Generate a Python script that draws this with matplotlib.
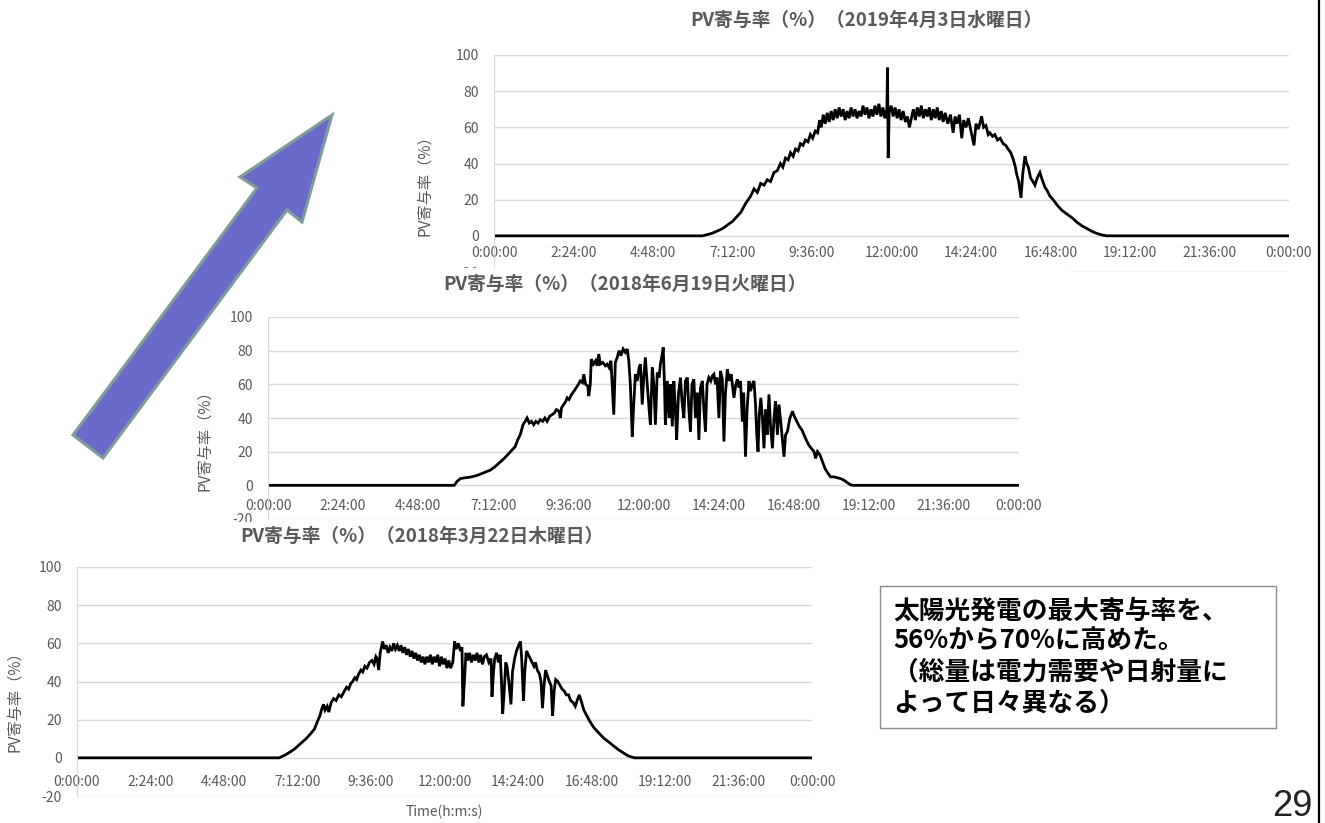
import matplotlib
matplotlib.use("Agg")
import matplotlib.pyplot as plt
from matplotlib.patches import Polygon, Rectangle

plt.rcParams['font.family'] = ['Noto Sans CJK JP', 'DejaVu Sans']
plt.rcParams['axes.unicode_minus'] = False

# time of day in hours, PV contribution rate in %
apr_t = [0.0, 6.3, 6.6, 6.9, 7.2, 7.45, 7.6, 7.75, 7.85, 7.95, 8.05, 8.15, 8.25, 8.35, 8.45,
         8.55, 8.65, 8.72, 8.8, 8.88, 8.95, 9.03, 9.1, 9.18, 9.25, 9.33, 9.4, 9.48, 9.55, 9.62,
         9.7, 9.77, 9.83, 9.88, 9.94, 10.0, 10.06, 10.12, 10.18, 10.24, 10.3, 10.36, 10.42,
         10.48, 10.54, 10.6, 10.66, 10.72, 10.78, 10.84, 10.9, 10.96, 11.02, 11.08, 11.14,
         11.2, 11.26, 11.32, 11.38, 11.44, 11.5, 11.56, 11.62, 11.68, 11.74, 11.8, 11.86,
         11.88, 11.9, 11.93, 11.99, 12.05, 12.11, 12.17, 12.23, 12.29, 12.35, 12.42, 12.48,
         12.54, 12.6, 12.66, 12.72, 12.78, 12.84, 12.9, 12.96, 13.02, 13.08, 13.14, 13.2,
         13.26, 13.32, 13.38, 13.44, 13.5, 13.56, 13.62, 13.7, 13.78, 13.86, 13.92, 13.98,
         14.05, 14.12, 14.18, 14.25, 14.32, 14.4, 14.49, 14.55, 14.62, 14.68, 14.72, 14.78,
         14.85, 14.92, 14.97, 15.05, 15.12, 15.2, 15.28, 15.37, 15.45, 15.52, 15.6, 15.68,
         15.74, 15.78, 15.84, 15.91, 15.96, 16.03, 16.08, 16.13, 16.2, 16.27, 16.33, 16.4,
         16.48, 16.55, 16.63, 16.7, 16.78, 16.88, 17.0, 17.15, 17.3, 17.45, 17.6, 17.75,
         17.9, 18.05, 18.2, 18.35, 18.5, 24.0]
apr_v = [0, 0, 1.5, 4, 8, 13, 18, 22, 26, 24, 29, 28, 31, 30, 35,
         36, 40, 38, 43, 42, 46, 44, 48, 47, 51, 50, 53, 52, 56, 54,
         58, 57, 64, 60, 67, 62, 68, 63, 69, 64, 70, 65, 71,
         66, 70, 64, 69, 65, 71, 66, 70, 65, 69, 66, 72,
         67, 71, 65, 70, 66, 72, 67, 73, 66, 71, 65, 70,
         93, 43, 68, 72, 66, 71, 65, 70, 64, 69, 63, 66,
         60, 65, 70, 64, 71, 66, 72, 65, 70, 66, 71, 64,
         70, 65, 71, 64, 69, 63, 68, 62, 67, 57, 66, 62,
         67, 54, 64, 60, 65, 58, 50, 62, 59, 63, 66, 60,
         61, 56, 57, 55, 56, 53, 54, 51, 50, 48, 46, 42,
         38, 34, 30, 21, 34, 44, 40, 38, 32, 30, 28, 32,
         35, 31, 27, 25, 22, 20, 17, 14, 12, 10, 7.5, 5.5,
         4, 2.5, 1.3, 0.5, 0, 0]

jun_t = [0.0, 5.95, 6.05, 6.15, 6.3, 6.5, 6.7, 6.9, 7.1, 7.25, 7.4, 7.55, 7.7, 7.8, 7.9,
         7.98, 8.06, 8.15, 8.22, 8.28, 8.35, 8.42, 8.49, 8.56, 8.63, 8.7, 8.78, 8.85, 8.92,
         9.0, 9.08, 9.15, 9.22, 9.3, 9.34, 9.38, 9.45, 9.52, 9.56, 9.62, 9.7, 9.78, 9.85,
         9.92, 9.98, 10.05, 10.09, 10.15, 10.22, 10.25, 10.3, 10.33, 10.4, 10.47, 10.52,
         10.57, 10.62, 10.7, 10.78, 10.84, 10.9, 10.96, 11.05, 11.1, 11.16, 11.22, 11.28,
         11.35, 11.42, 11.48, 11.53, 11.58, 11.64, 11.68, 11.74, 11.8, 11.86, 11.9, 11.96,
         12.01, 12.06, 12.12, 12.18, 12.22, 12.28, 12.33, 12.38, 12.44, 12.5, 12.54, 12.6,
         12.63, 12.67, 12.7, 12.76, 12.82, 12.86, 12.92, 12.97, 13.02, 13.06, 13.12, 13.18,
         13.23, 13.29, 13.34, 13.4, 13.45, 13.5, 13.55, 13.61, 13.66, 13.72, 13.77, 13.82,
         13.88, 13.93, 13.98, 14.03, 14.09, 14.15, 14.2, 14.25, 14.3, 14.35, 14.41, 14.46,
         14.52, 14.57, 14.62, 14.68, 14.74, 14.8, 14.85, 14.89, 14.95, 15.0, 15.05, 15.1,
         15.16, 15.2, 15.26, 15.31, 15.37, 15.42, 15.48, 15.53, 15.58, 15.62, 15.66, 15.7,
         15.75, 15.8, 15.85, 15.9, 15.95, 16.01, 16.06, 16.12, 16.17, 16.22, 16.28, 16.33,
         16.4, 16.45, 16.49, 16.54, 16.6, 16.68, 16.76, 16.82, 16.9, 16.98, 17.06, 17.13,
         17.2, 17.28, 17.36, 17.45, 17.5, 17.56, 17.64, 17.72, 17.8, 17.9, 17.98, 18.09,
         18.2, 18.3, 18.41, 18.52, 18.62, 18.7, 24.0]
jun_v = [0, 0, 2.5, 4, 4.5, 5, 6, 7.5, 9, 11, 13.5, 16, 19, 21, 23,
         27, 30, 36, 38, 40, 37, 38, 36, 38, 37, 39, 38, 40, 38,
         41, 42, 43, 45, 44, 40, 46, 48, 50, 52, 51, 54, 56, 58,
         60, 62, 61, 66, 60, 59, 53, 60, 75, 72, 74, 71,
         78, 72, 73, 71, 72, 70, 74, 42, 73, 76, 80, 77,
         81, 79, 81, 74, 60, 29, 45, 66, 62, 70, 72, 48,
         65, 76, 60, 45, 36, 70, 60, 36, 67, 64, 72, 78,
         82, 60, 36, 62, 40, 60, 35, 62, 45, 27, 55, 64,
         50, 40, 62, 64, 45, 32, 60, 63, 40, 55, 27, 58,
         62, 45, 32, 60, 64, 62, 65, 66, 60, 64, 40, 68,
         63, 26, 55, 69, 62, 66, 58, 52, 60, 63, 58, 62,
         38, 55, 17, 45, 62, 56, 60, 62, 48, 30, 20, 42,
         52, 40, 22, 45, 30, 54, 35, 22, 40, 50, 30, 48,
         35, 25, 17, 30, 32, 40, 44, 41, 38, 35, 33, 30,
         27, 24, 22, 20, 16, 20, 18, 14, 10, 7, 5, 5,
         4.5, 4, 3, 1.5, 0.3, 0, 0]

mar_t = [0.0, 6.6, 6.8, 7.0, 7.13, 7.3, 7.48, 7.62, 7.75, 7.85, 7.93, 8.0, 8.05, 8.1, 8.17,
         8.22, 8.3, 8.38, 8.46, 8.55, 8.63, 8.73, 8.8, 8.87, 8.94, 9.0, 9.07, 9.13, 9.2,
         9.27, 9.33, 9.4, 9.47, 9.55, 9.63, 9.7, 9.76, 9.8, 9.85, 9.9, 9.98, 10.04, 10.1,
         10.16, 10.22, 10.28, 10.34, 10.4, 10.46, 10.52, 10.58, 10.64, 10.7, 10.76, 10.82,
         10.88, 10.94, 11.0, 11.06, 11.12, 11.18, 11.24, 11.3, 11.36, 11.42, 11.48, 11.54,
         11.6, 11.66, 11.72, 11.78, 11.84, 11.9, 11.96, 12.02, 12.08, 12.14, 12.2, 12.27,
         12.33, 12.38, 12.45, 12.52, 12.57, 12.6, 12.65, 12.7, 12.76, 12.82, 12.88, 12.94,
         13.0, 13.06, 13.12, 13.18, 13.24, 13.3, 13.37, 13.45, 13.52, 13.55, 13.6, 13.64,
         13.7, 13.76, 13.82, 13.86, 13.9, 13.95, 14.0, 14.04, 14.1, 14.17, 14.22, 14.29,
         14.35, 14.42, 14.48, 14.52, 14.58, 14.62, 14.68, 14.74, 14.8, 14.86, 14.92, 14.97,
         15.03, 15.1, 15.15, 15.2, 15.25, 15.3, 15.36, 15.42, 15.48, 15.53, 15.58, 15.63,
         15.7, 15.77, 15.84, 15.91, 15.98, 16.05, 16.12, 16.2, 16.27, 16.33, 16.4, 16.46,
         16.55, 16.65, 16.75, 16.87, 16.98, 17.1, 17.22, 17.35, 17.5, 17.66, 17.85, 18.0,
         18.2, 24.0]
mar_v = [0, 0, 1.5, 3.5, 5, 7.5, 10, 12.5, 15, 19, 22, 26, 28, 25, 27,
         24, 29, 31, 30, 33, 32, 35, 37, 36, 39, 40, 42, 41, 44,
         46, 45, 48, 47, 50, 51, 49, 53, 52, 46, 55, 61, 57, 59,
         55, 58, 56, 60, 57, 59, 56, 59, 55, 58, 54, 57,
         53, 56, 52, 55, 51, 54, 50, 53, 49, 53, 50, 54,
         49, 53, 50, 54, 48, 53, 49, 52, 47, 51, 47, 50,
         61, 57, 60, 56, 58, 27, 40, 55, 51, 55, 50, 54,
         51, 55, 50, 54, 49, 53, 54, 50, 52, 32, 45, 52,
         55, 50, 54, 40, 23, 35, 50, 48, 40, 28, 45, 52,
         56, 59, 61, 52, 30, 45, 56, 54, 52, 50, 48, 50,
         46, 44, 40, 26, 38, 46, 43, 40, 38, 22, 35, 41,
         40, 38, 36, 35, 33, 33, 30, 29, 27, 30, 33, 30,
         25, 22, 19, 16, 14, 12, 10, 8.5, 6.5, 4.5, 2.5, 1,
         0, 0]

tick_labels = ["0:00:00", "2:24:00", "4:48:00", "7:12:00", "9:36:00", "12:00:00",
               "14:24:00", "16:48:00", "19:12:00", "21:36:00", "0:00:00"]
y_ticks = [-20, 0, 20, 40, 60, 80, 100]
ylabel = "PV寄与率（%）"
titles = ["PV寄与率（%）（2019年4月3日水曜日）",
          "PV寄与率（%）（2018年6月19日火曜日）",
          "PV寄与率（%）（2018年3月22日木曜日）"]
note_lines = ["太陽光発電の最大寄与率を、",
              "56%から70%に高めた。",
              "（総量は電力需要や日射量に",
              "よって日々異なる）"]

W, H = 1325, 823
fig = plt.figure(figsize=(W / 100, H / 100), dpi=100)
GRID = "#D9D9D9"
TXT = "#595959"


def fx(x):
    return x / W


def fy(y):
    return 1 - y / H


def chart(plot, box, z, title, title_xy, ylab_xy, t, v, xpad, xtitle=None):
    x0, y0, x1, y1 = plot
    if box is not None:
        bx0, by0, bx1, by1 = box
        fig.add_artist(Rectangle((fx(bx0), fy(by1)), (bx1 - bx0) / W, (by1 - by0) / H,
                                 transform=fig.transFigure, facecolor="white",
                                 edgecolor="none", zorder=z))
    ax = fig.add_axes([fx(x0), fy(y1), (x1 - x0) / W, (y1 - y0) / H], zorder=z + 0.5)
    ax.set_facecolor("none")
    ax.plot(t, v, color="black", lw=2, solid_joinstyle="miter")
    ax.set_xlim(0, 24)
    ax.set_ylim(-20, 100)
    ax.set_yticks(y_ticks)
    ax.set_xticks([i * 2.4 for i in range(11)])
    ax.set_xticklabels(tick_labels)
    ax.grid(axis="y", color=GRID, lw=1)
    ax.set_axisbelow(True)
    for s in ["top", "right"]:
        ax.spines[s].set_visible(False)
    ax.spines["bottom"].set_position(("data", 0))
    ax.spines["bottom"].set_visible(False)
    ax.spines["left"].set_color(GRID)
    ax.tick_params(axis="both", length=0, labelsize=10, labelcolor=TXT)
    ax.tick_params(axis="y", pad=11)
    ax.tick_params(axis="x", pad=xpad)
    fig.text(fx(title_xy[0]), fy(title_xy[1]), title, ha="center", va="center",
             fontsize=13.5, fontweight="bold", color="#595959", zorder=z + 1)
    fig.text(fx(ylab_xy[0]), fy(ylab_xy[1]), ylabel, ha="center", va="center",
             rotation=90, fontsize=11, color=TXT, zorder=z + 1)
    if xtitle:
        fig.text(fx(xtitle[0]), fy(xtitle[1]), "Time(h:m:s)", ha="center", va="center",
                 fontsize=10, color=TXT, zorder=z + 1)
    return ax


chart((494, 55, 1289, 272), None, 1, titles[0], (866, 20), (425, 182), apr_t, apr_v, 7)
chart((268, 317, 1019, 519), (185, 268, 1067, 530), 2, titles[1], (625, 284), (205, 437),
      jun_t, jun_v, 10)
chart((77, 567, 812, 796), (0, 522, 850, 823), 4, titles[2], (422, 536), (15, 698),
      mar_t, mar_v, 12, xtitle=(444, 812))

# overlay for arrow, note box and page number
ov = fig.add_axes([0, 0, 1, 1], zorder=10)
ov.set_xlim(0, W)
ov.set_ylim(H, 0)
ov.axis("off")
ov.set_facecolor("none")

arrow = [(73, 435), (103, 458), (287, 210), (302, 222), (332, 115), (240, 177), (257, 188)]
ov.add_patch(Polygon(arrow, closed=True, facecolor="#6A6ACB", edgecolor="#7F9C9A",
                     lw=2.2, joinstyle="miter"))

ov.add_patch(Rectangle((880, 586), 396, 142, facecolor="white", edgecolor="#8C8C8C", lw=1))
for i, line in enumerate(note_lines):
    ov.text(893, 611 + i * 30.5, line, ha="left", va="center", fontsize=18.5,
            fontweight="bold", color="black")

ov.text(1292, 806, "29", ha="center", va="center", fontsize=26, color="#222222",
        family="Liberation Sans")
ov.plot([1319, 1319], [0, H], color="black", lw=1.6)

fig.savefig("out.png", dpi=100)
